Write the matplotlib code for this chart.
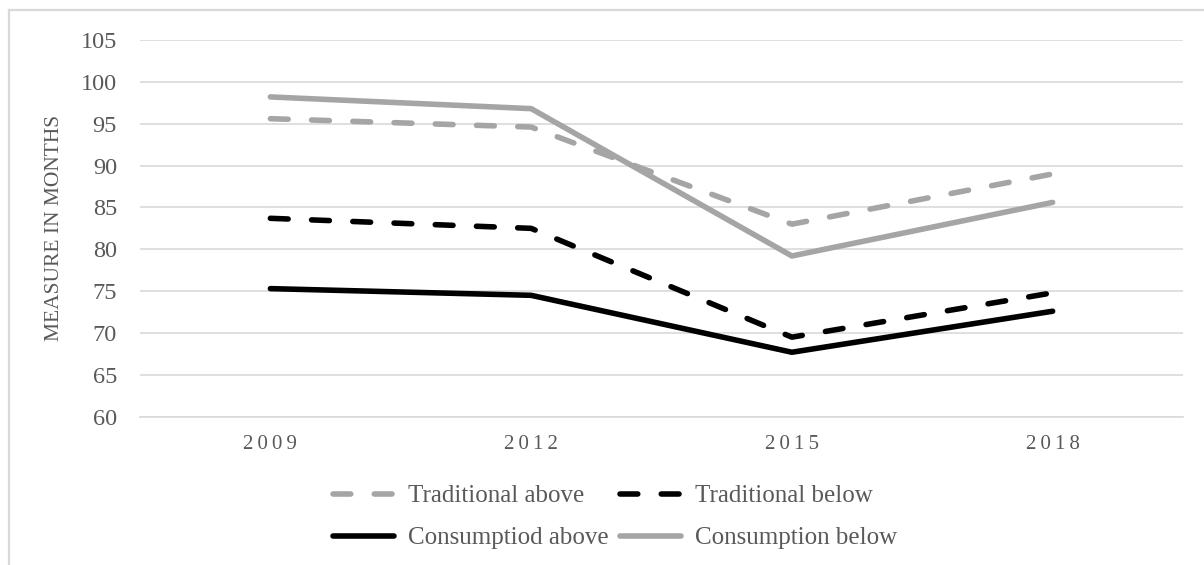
import matplotlib
matplotlib.use("Agg")
import matplotlib.pyplot as plt
from matplotlib.lines import Line2D

plt.rcParams["font.family"] = ["Liberation Serif", "DejaVu Serif"]
plt.rcParams["lines.scale_dashes"] = False

# Survey years and series values (months)
years = ["2009", "2012", "2015", "2018"]
traditional_above = [95.6, 94.6, 83.0, 89.0]
traditional_below = [83.7, 82.5, 69.5, 74.8]
consumption_above = [75.3, 74.5, 67.7, 72.6]
consumption_below = [98.2, 96.8, 79.2, 85.6]
series_labels = ["Traditional above", "Traditional below",
                 "Consumptiod above", "Consumption below"]
y_ticks = [60, 65, 70, 75, 80, 85, 90, 95, 100, 105]

GRAY = "#a5a5a5"
BLACK = "#000000"
TEXT = "#595959"
GRID = "#d9d9d9"
LW = 4.0
DASH = (0, (12.8, 16.9))

W, H = 1204, 565
fig = plt.figure(figsize=(W / 100, H / 100), dpi=100)

# chart frame (top and left edges)
fig.add_artist(Line2D([8.5 / W, 8.5 / W], [0, 1 - 10 / H], color=GRID, lw=1.6,
                      transform=fig.transFigure))
fig.add_artist(Line2D([8.5 / W, 1], [1 - 10 / H, 1 - 10 / H], color=GRID, lw=1.6,
                      transform=fig.transFigure))

left, right = 140 / W, 1183 / W
bottom, top = 1 - 416.7 / H, 1 - 40 / H
ax = fig.add_axes([left, bottom, right - left, top - bottom])

x = list(range(len(years)))
style = dict(lw=LW, solid_capstyle="round", dash_capstyle="round",
             solid_joinstyle="round", dash_joinstyle="round")
ax.plot(x, traditional_above, color=GRAY, linestyle=DASH, zorder=3, **style)
ax.plot(x, traditional_below, color=BLACK, linestyle=DASH, zorder=3, **style)
ax.plot(x, consumption_above, color=BLACK, linestyle="-", zorder=3, **style)
ax.plot(x, consumption_below, color=GRAY, linestyle="-", zorder=3, **style)

ax.set_xlim(-0.5, len(years) - 0.5)
ax.set_ylim(60, 105)
ax.set_yticks(y_ticks)
ax.set_yticklabels([str(v) for v in y_ticks], fontsize=17.5, color=TEXT)
ax.set_xticks(x)
# year labels are letter-spaced
ax.set_xticklabels(["\u2009".join(y) for y in years], fontsize=15, color=TEXT)
ax.tick_params(axis="both", length=0)
ax.tick_params(axis="y", pad=16.5)
ax.tick_params(axis="x", pad=13)
ax.grid(axis="y", color=GRID, lw=1.2)
ax.set_axisbelow(True)
for s in ax.spines.values():
    s.set_visible(False)
ax.spines["bottom"].set_visible(True)
ax.spines["bottom"].set_color(GRID)
ax.spines["bottom"].set_linewidth(1.2)

fig.text(55 / W, 1 - 228 / H, "MEASURE IN MONTHS", rotation=90, ha="center",
         va="center", fontsize=15.5, color=TEXT)

# legend, two rows filled row by row
h_ta = Line2D([], [], color=GRAY, lw=LW, linestyle=DASH, dash_capstyle="round")
h_tb = Line2D([], [], color=BLACK, lw=LW, linestyle=DASH, dash_capstyle="round")
h_ca = Line2D([], [], color=BLACK, lw=LW, solid_capstyle="round")
h_cb = Line2D([], [], color=GRAY, lw=LW, solid_capstyle="round")
handles = [h_ta, h_ca, h_tb, h_cb]
labels = [series_labels[0], series_labels[2], series_labels[1], series_labels[3]]
leg = fig.legend(handles, labels, ncol=2, loc="center",
                 bbox_to_anchor=(615 / W, 1 - 517 / H), frameon=False,
                 fontsize=18, handlelength=2.44, handletextpad=0.55,
                 columnspacing=0.45, labelspacing=0.78, borderpad=0)
for t in leg.get_texts():
    t.set_color(TEXT)

fig.savefig("out.png", dpi=100)
